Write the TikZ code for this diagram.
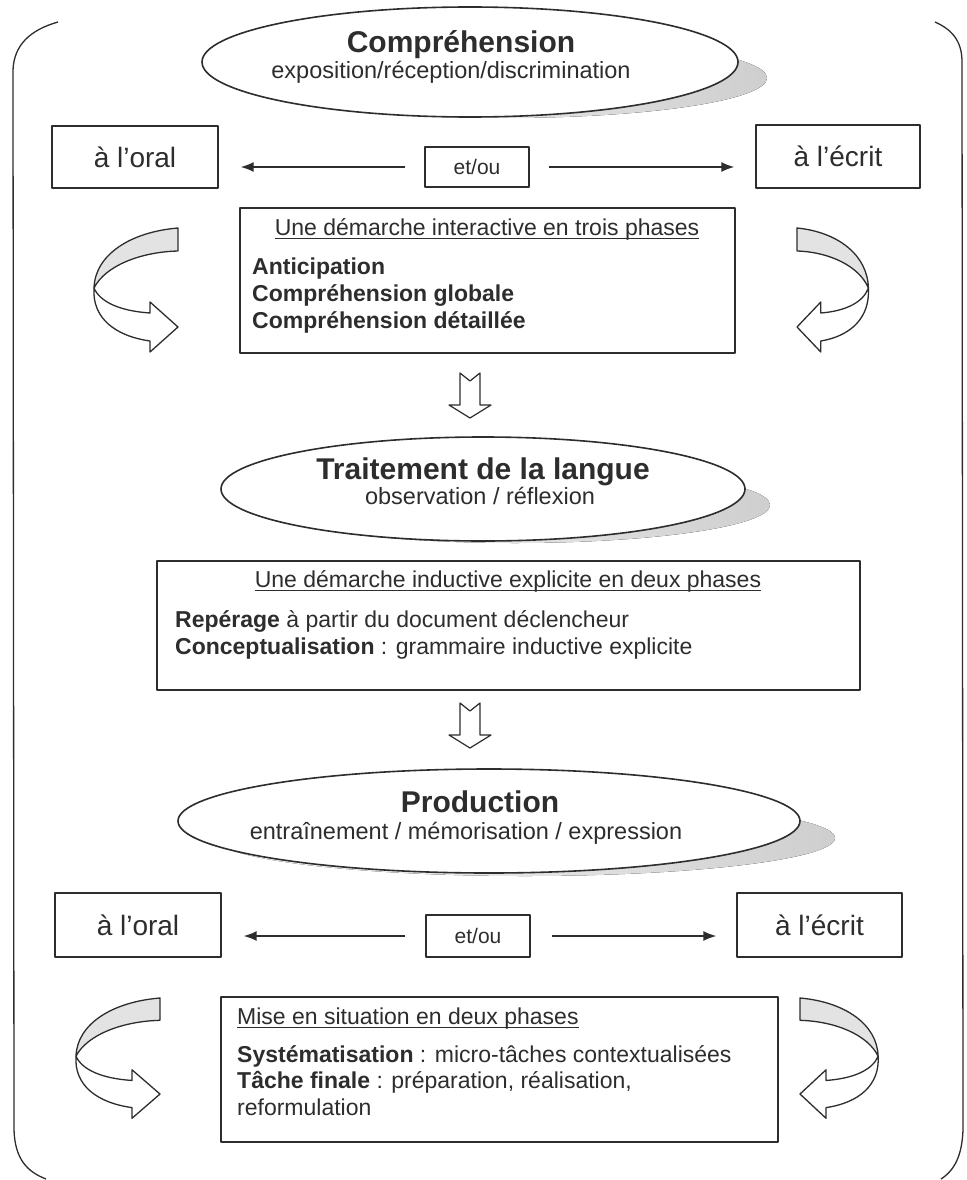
\documentclass[tikz,border=0pt]{standalone}
\usepackage{fontspec}
\setmainfont{Liberation Sans}
\usetikzlibrary{arrows.meta,shapes.geometric}
\definecolor{ink}{RGB}{45,45,45}
\newcommand{\curvArrow}{%
  \filldraw[fill=gray!22, draw=ink, line width=1.3pt]
    (0,0) .. controls (-48,4) and (-83,27) .. (-84,60)
    .. controls (-73,38) and (-38,24) .. (0,23) -- cycle;
  \filldraw[fill=white, draw=ink, line width=1.3pt]
    (-84,60) .. controls (-86,90) and (-63,108) .. (-28,113)
    -- (-28,124) -- (0,99) -- (-28,74) -- (-28,85)
    .. controls (-58,83) and (-78,74) .. (-84,60) -- cycle;
}
\begin{document}
\begin{tikzpicture}[x=1pt,y=-1pt,line join=round,
  box/.style={draw=ink, line width=1.4pt, fill=white, inner sep=0pt, text=ink},
  sidebox/.style={box, font=\fontsize{28}{32}\selectfont},
  etoubox/.style={box, font=\fontsize{21}{24}\selectfont},
  ell/.style={ellipse, draw=ink, line width=1.6pt, fill=white, inner sep=0pt},
  eltitle/.style={font=\bfseries\fontsize{30}{34}\selectfont, text=ink, inner sep=0pt, anchor=mid},
  elsub/.style={font=\fontsize{23.5}{27}\selectfont, text=ink, inner sep=0pt, anchor=mid},
  body/.style={font=\fontsize{23}{27}\selectfont, text=ink, inner sep=0pt, anchor=mid west},
  btitle/.style={body, anchor=mid},
  uline/.style={draw=ink, line width=1.1pt},
  conn/.style={draw=ink, line width=1.5pt, -{Latex[length=13pt,width=10pt]}},
  shadow/.style={left color=gray!5, right color=gray!38, draw=none},
  blockarrow/.style={draw=ink, line width=1.2pt, fill=white}
]
\useasboundingbox (0,0) rectangle (966,1180);

% outer brackets
\draw[ink, line width=1.3pt] (58,22) .. controls (30,30) and (14,45) .. (13,70) -- (14,1130) .. controls (15,1160) and (28,1172) .. (46,1179);
\draw[ink, line width=1.3pt] (935,22) .. controls (953,30) and (962,42) .. (962,62) -- (963,1130) .. controls (962,1155) and (955,1170) .. (941,1179);

% ---------- Compréhension ----------
\fill[shadow] (505,78) ellipse [x radius=262, y radius=40];
\node[ell, minimum width=536pt, minimum height=110pt] (e1) at (470,62) {};
\node[eltitle] (e1t) at (461,50) {Compréhension};
\node[elsub] (e1s) at (451,76) {exposition/réception/discrimination};

\node[sidebox, minimum width=166pt, minimum height=62pt] (oral1) at (135,157) {à l’oral};
\node[sidebox, minimum width=164pt, minimum height=63pt] (ecrit1) at (838,156.5) {à l’écrit};
\node[etoubox, minimum width=104pt, minimum height=40pt] (etou1) at (477,167) {et/ou};
\draw[conn, shorten <=19pt, shorten >=22pt] (etou1.west) -- (etou1.west -| oral1.east);
\draw[conn, shorten <=19pt, shorten >=21pt] (etou1.east) -- (etou1.east -| ecrit1.west);

\node[box, minimum width=495pt, minimum height=145pt] (b1) at (487.5,280.5) {};
\node[btitle] (b1t) at (487,233) {Une démarche interactive en trois phases};
\draw[uline] ([yshift=-3pt]b1t.base west) -- ([yshift=-3pt]b1t.base east);
\node[body] (b1a) at (252,272) {\bfseries Anticipation};
\node[body] (b1b) at (252,299) {\bfseries Compréhension globale};
\node[body] (b1c) at (252,326) {\bfseries Compréhension détaillée};

\begin{scope}[shift={(178,228)}] \curvArrow \end{scope}
\begin{scope}[shift={(797,228)}, xscale=-0.85] \curvArrow \end{scope}

\draw[blockarrow] (460,373) -- (470,381) -- (480,373) -- (480,405) -- (491,405) -- (470,418) -- (449,405) -- (460,405) -- cycle;

% ---------- Traitement de la langue ----------
\fill[shadow] (515,505) ellipse [x radius=255, y radius=38];
\node[ell, minimum width=524pt, minimum height=104pt] (e2) at (483,489) {};
\node[eltitle] (e2t) at (483,477) {Traitement de la langue};
\node[elsub] (e2s) at (480,502) {observation / réflexion};

\node[box, minimum width=703pt, minimum height=129pt] (b2) at (508.5,625.5) {};
\node[btitle] (b2t) at (508,585) {Une démarche inductive explicite en deux phases};
\draw[uline] ([yshift=-3pt]b2t.base west) -- ([yshift=-3pt]b2t.base east);
\node[body] (b2a) at (175,625) {\textbf{Repérage} à partir du document déclencheur};
\node[body] (b2b) at (175,652) {\textbf{Conceptualisation} : grammaire inductive explicite};

\draw[blockarrow] (460,703) -- (470,711) -- (480,703) -- (480,735) -- (491,735) -- (470,748) -- (449,735) -- (460,735) -- cycle;

% ---------- Production ----------
\fill[shadow] (525,838) ellipse [x radius=310, y radius=38];
\node[ell, minimum width=622pt, minimum height=104pt] (e3) at (489,821) {};
\node[eltitle] (e3t) at (480,810) {Production};
\node[elsub] (e3s) at (466,837) {entraînement / mémorisation / expression};

\node[sidebox, minimum width=166pt, minimum height=64pt] (oral2) at (138,925) {à l’oral};
\node[sidebox, minimum width=165pt, minimum height=64pt] (ecrit2) at (819.5,925) {à l’écrit};
\node[etoubox, minimum width=104pt, minimum height=42pt] (etou2) at (478,936) {et/ou};
\draw[conn, shorten <=20pt, shorten >=22pt] (etou2.west) -- (etou2.west -| oral2.east);
\draw[conn, shorten <=21pt, shorten >=20pt] (etou2.east) -- (etou2.east -| ecrit2.west);

\node[box, minimum width=557pt, minimum height=145pt] (b3) at (499.5,1069.5) {};
\node[body] (b3t) at (237,1022) {Mise en situation en deux phases};
\draw[uline] ([yshift=-3pt]b3t.base west) -- ([yshift=-3pt]b3t.base east);
\node[body] (b3a) at (237,1060) {\textbf{Systématisation} : micro-tâches contextualisées};
\node[body] (b3b) at (237,1086) {\textbf{Tâche finale} : préparation, réalisation,};
\node[body] (b3c) at (237,1113) {reformulation};

\begin{scope}[shift={(160,998)}, yscale=0.97] \curvArrow \end{scope}
\begin{scope}[shift={(800,998)}, xscale=-0.93, yscale=0.97] \curvArrow \end{scope}
\end{tikzpicture}
\end{document}
